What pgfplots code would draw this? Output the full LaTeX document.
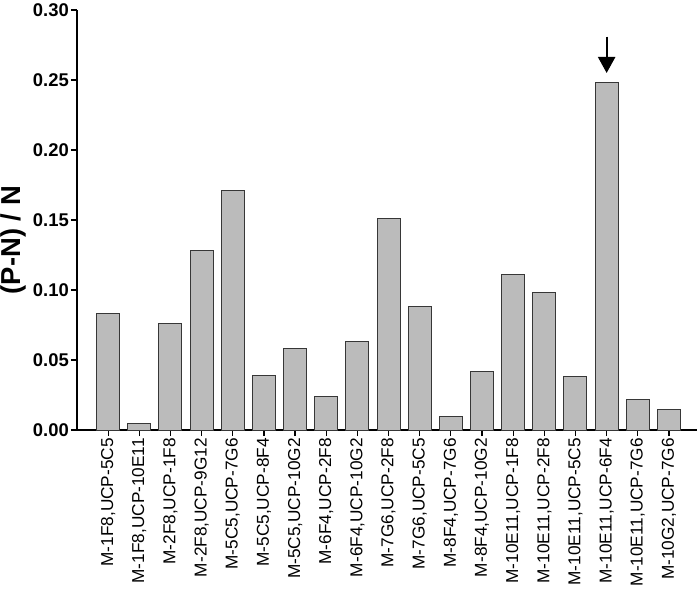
\documentclass[border=0pt]{standalone}
\usepackage{fontspec}
\setmainfont{Liberation Sans}
\usepackage{pgfplots}
\pgfplotsset{compat=1.18}
\usetikzlibrary{arrows.meta}
\definecolor{barfill}{RGB}{187,187,187}
\definecolor{baredge}{RGB}{55,55,55}
\begin{document}
\begin{tikzpicture}
\begin{axis}[
  scale only axis,
  width=620bp, height=420bp,
  xmin=-1, xmax=18.9,
  ymin=0, ymax=0.30,
  axis lines=left,
  axis line style={-, line width=1.4pt},
  ytick={0,0.05,0.10,0.15,0.20,0.25,0.30},
  /pgf/number format/fixed,
  /pgf/number format/fixed zerofill,
  /pgf/number format/precision=2,
  /pgf/number format/assume math mode=true,
  yticklabel={\bfseries\pgfmathprintnumber{\tick}},
  ticklabel style={font=\fontsize{18.5}{18.5}\selectfont},
  xtick={0,...,18},
  xticklabels={M-1F8{,}UCP-5C5, M-1F8{,}UCP-10E11, M-2F8{,}UCP-1F8, M-2F8{,}UCP-9G12, M-5C5{,}UCP-7G6, M-5C5{,}UCP-8F4, M-5C5{,}UCP-10G2, M-6F4{,}UCP-2F8, M-6F4{,}UCP-10G2, M-7G6{,}UCP-2F8, M-7G6{,}UCP-5C5, M-8F4{,}UCP-7G6, M-8F4{,}UCP-10G2, M-10E11{,}UCP-1F8, M-10E11{,}UCP-2F8, M-10E11{,}UCP-5C5, M-10E11{,}UCP-6F4, M-10E11{,}UCP-7G6, M-10G2{,}UCP-7G6},
  xticklabel style={rotate=90, anchor=east, font=\fontsize{17.3}{17.3}\selectfont, inner sep=2pt},
  yticklabel style={inner sep=2bp},
  tick align=outside,
  major tick length=6bp,
  tick style={line width=1.2pt, black},
  ylabel={\bfseries (P-N) / N},
  ylabel style={font=\fontsize{27.5}{27.5}\selectfont, at={(axis description cs:-0.1032,0.452)}, anchor=center},
  clip=false,
]
\addplot[ybar, bar width=23bp, fill=barfill, draw=baredge, line width=1pt] coordinates {
(0,0.083) (1,0.005) (2,0.076) (3,0.128) (4,0.171) (5,0.039) (6,0.058) (7,0.024) (8,0.063) (9,0.151)
(10,0.088) (11,0.0093) (12,0.042) (13,0.111) (14,0.098) (15,0.038) (16,0.248) (17,0.022) (18,0.015)
};
\draw[-{Triangle[length=16bp,width=17bp]}, line width=2.2pt] (axis cs:16,0.281) -- (axis cs:16,0.255);
\end{axis}
\pgfresetboundingbox
\path ([shift={(-77bp,-161bp)}]current axis.south west) rectangle ([shift={(3bp,10bp)}]current axis.north east);
\end{tikzpicture}
\end{document}
